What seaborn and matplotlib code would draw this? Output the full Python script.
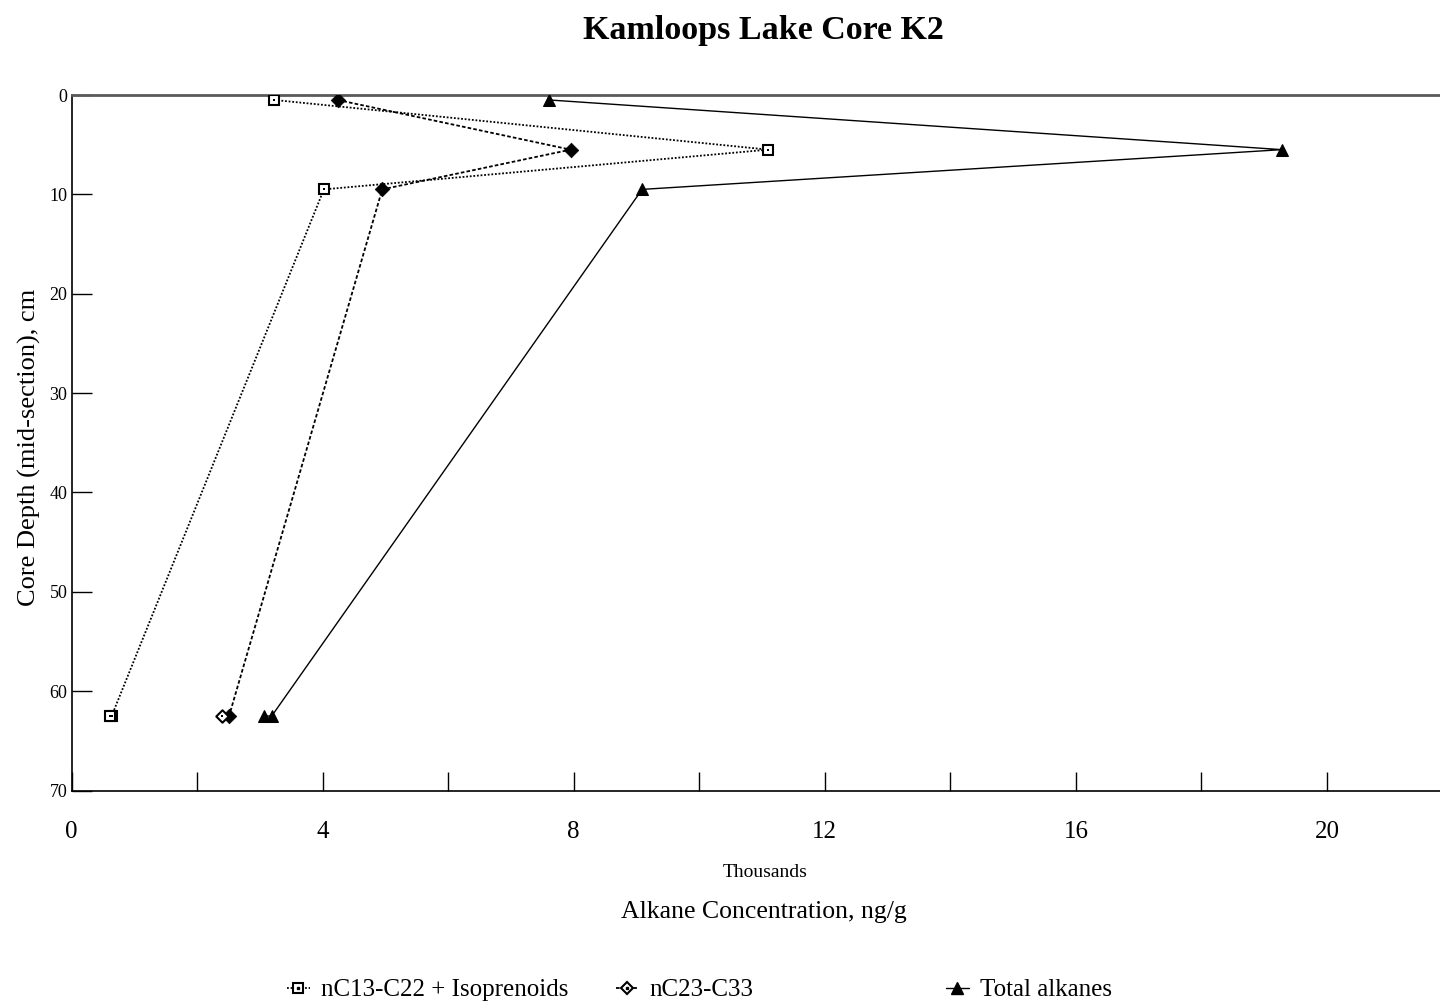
import matplotlib
matplotlib.use("Agg")
import matplotlib.pyplot as plt
import seaborn as sns
from matplotlib.lines import Line2D
from matplotlib.ticker import MultipleLocator, FixedLocator

# Kamloops Lake core K2: alkane concentrations (thousands of ng/g) by core depth
depth_cm = [0.5, 5.5, 9.5, 62.5, 62.5]
light_alkanes = [3.23, 11.10, 4.02, 0.64, 0.62]    # nC13-C22 + isoprenoids
heavy_alkanes = [4.24, 7.95, 4.95, 2.51, 2.39]     # nC23-C33
total_alkanes = [7.61, 19.28, 9.09, 3.19, 3.07]    # total alkanes
series_labels = ["nC13-C22 + Isoprenoids", "nC23-C33", "Total alkanes"]
x_major_ticks = [0, 4, 8, 12, 16, 20]
y_ticks = [0, 10, 20, 30, 40, 50, 60, 70]

sns.set_theme(style="ticks")
plt.rcParams["font.family"] = ["Liberation Serif", "DejaVu Serif"]
plt.rcParams["text.color"] = "black"
plt.rcParams["xtick.color"] = "black"
plt.rcParams["ytick.color"] = "black"

W, H = 1440, 1005
fig = plt.figure(figsize=(W / 100, H / 100), dpi=100)
ax = fig.add_axes([71.5 / W, 1 - 790.5 / H, 1 - 71.5 / W, (790.5 - 95) / H])

# nC13-C22 + isoprenoids: dotted line, open squares with a centre dot
sns.lineplot(x=light_alkanes, y=depth_cm, sort=False, estimator=None, ax=ax,
             color="black", linewidth=1.3, linestyle=(0, (1, 1)),
             marker="s", markersize=7, markerfacecolor="white",
             markeredgecolor="black", markeredgewidth=1.5, zorder=3)
sns.scatterplot(x=light_alkanes, y=depth_cm, ax=ax, marker="s", s=3,
                color="black", linewidth=0, zorder=4)

# nC23-C33: fine dashed line, diamonds
sns.lineplot(x=heavy_alkanes, y=depth_cm, sort=False, estimator=None, ax=ax,
             color="black", linewidth=1.3, linestyle=(0, (2, 1.2)), zorder=3)
sns.scatterplot(x=heavy_alkanes[:4], y=depth_cm[:4], ax=ax, marker="D", s=55,
                color="black", edgecolor="black", linewidth=0.5, zorder=4)
sns.scatterplot(x=heavy_alkanes[4:], y=depth_cm[4:], ax=ax, marker="D", s=40,
                facecolor="white", edgecolor="black", linewidth=1.5, zorder=4)
sns.scatterplot(x=heavy_alkanes[4:], y=depth_cm[4:], ax=ax, marker="s", s=3,
                color="black", linewidth=0, zorder=5)

# Total alkanes: solid line, filled triangles
sns.lineplot(x=total_alkanes, y=depth_cm, sort=False, estimator=None, ax=ax,
             color="black", linewidth=1.0, linestyle="-",
             marker="^", markersize=9, markerfacecolor="black",
             markeredgecolor="black", zorder=3)

ax.set_xlim(0, 21.8)
ax.set_ylim(70, 0)
ax.xaxis.set_major_locator(FixedLocator(x_major_ticks))
ax.xaxis.set_minor_locator(MultipleLocator(2))
ax.yaxis.set_major_locator(FixedLocator(y_ticks))
ax.set_xlabel("")
ax.set_ylabel("")
ax.grid(False)

ax.tick_params(axis="x", which="both", direction="in", length=13.7, width=1.0,
               colors="black", bottom=True, top=False)
ax.tick_params(axis="x", which="major", labelsize=18, pad=22)
ax.tick_params(axis="y", direction="in", length=14.4, width=1.0, colors="black",
               labelsize=13, pad=3, left=True, right=False)

for side in ("left", "bottom"):
    ax.spines[side].set_color("black")
    ax.spines[side].set_linewidth(1.2)
ax.spines["top"].set_color("#5a5a5a")
ax.spines["top"].set_linewidth(2.0)
ax.spines["right"].set_visible(False)

fig.text(763 / W, 1 - 30 / H, "Kamloops Lake Core K2", ha="center", va="center",
         fontsize=24.5, fontweight="bold")
fig.text(765 / W, 1 - 872 / H, "Thousands", ha="center", va="center", fontsize=14)
fig.text(764 / W, 1 - 912 / H, "Alkane Concentration, ng/g", ha="center",
         va="center", fontsize=18.5)
fig.text(29 / W, 1 - 447 / H, "Core Depth (mid-section), cm", ha="center",
         va="center", rotation=90, fontsize=19)

# Legend entries laid out along the bottom
dot = Line2D([], [], linestyle="none", marker="s", markersize=1.6, color="black")
handles = [
    (Line2D([], [], color="black", linewidth=1.3, linestyle=(0, (1, 1)), marker="s",
            markersize=7, markerfacecolor="white", markeredgecolor="black",
            markeredgewidth=1.5), dot),
    (Line2D([], [], color="black", linewidth=1.3, linestyle=(0, (2, 1.2)), marker="D",
            markersize=6, markerfacecolor="white", markeredgecolor="black",
            markeredgewidth=1.5), dot),
    Line2D([], [], color="black", linewidth=1.0, marker="^", markersize=9,
           markerfacecolor="black"),
]
legend_x = [287, 616, 946]
for h, lab, lx in zip(handles, series_labels, legend_x):
    fig.legend([h], [lab], loc="center left", bbox_to_anchor=(lx / W, 1 - 990 / H),
               frameon=False, fontsize=18, borderpad=0, borderaxespad=0,
               handlelength=0.9, handletextpad=0.45)

fig.savefig("out.png", dpi=100)
